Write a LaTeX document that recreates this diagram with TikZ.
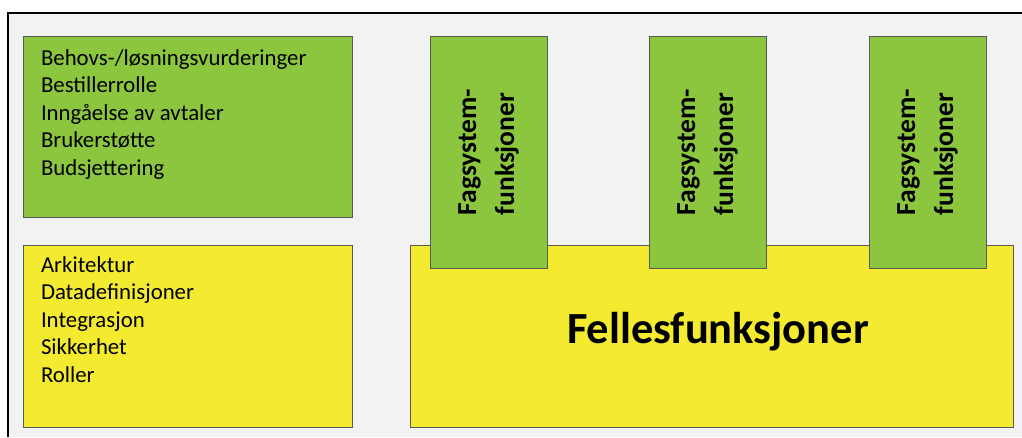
\documentclass[tikz,border=0pt]{standalone}
\usepackage{fontspec}
\setmainfont{Carlito}
\usepackage{xcolor}
\usepackage{tikz}
\usetikzlibrary{shadows}
\definecolor{boxgreen}{HTML}{8CC63F}
\definecolor{boxyellow}{HTML}{F4EB30}
\definecolor{bgray}{HTML}{F2F2F2}

\begin{document}
\begin{tikzpicture}[
  x=1pt, y=-1pt,
  every node/.style={inner sep=0pt, outer sep=0pt},
  fbox/.style={draw=black!65, line width=0.9pt, anchor=north west,
    drop shadow={shadow xshift=1.2pt, shadow yshift=-1.2pt, opacity=0.35, fill=black}},
  listtxt/.style={anchor=base west, font=\fontsize{22.8}{27.5}\selectfont},
  tabtxt/.style={rotate=90, align=left, font=\fontsize{27.5}{38}\selectfont\bfseries}
]
\useasboundingbox (0,0) rectangle (1022,437);
% background and frame
\fill[bgray] (8,13) rectangle (1022,437);
\draw[line width=1.4pt] (8,437) -- (8,13) -- (1022,13);
% left boxes
\node[fbox, fill=boxgreen, minimum width=329, minimum height=181] (roles) at (23,36) {};
\node[fbox, fill=boxyellow, minimum width=329, minimum height=182] (arch) at (23,245) {};
\foreach \i/\lbl in {0/{Behovs-/løsningsvurderinger}, 1/Bestillerrolle,
  2/Inngåelse av avtaler, 3/Brukerstøtte, 4/Budsjettering}
  \node[listtxt] (roles-\i) at (41,65+27.5*\i) {\lbl};
\foreach \i/\lbl in {0/Arkitektur, 1/Datadefinisjoner, 2/Integrasjon,
  3/Sikkerhet, 4/Roller}
  \node[listtxt] (arch-\i) at (41,272+27.5*\i) {\lbl};
% common base
\node[fbox, fill=boxyellow, minimum width=603, minimum height=182] (felles) at (410,245) {};
\node[anchor=base, font=\fontsize{44.5}{50}\selectfont\bfseries] (fellestxt) at (718,343) {Fellesfunksjoner};
% tabs
\foreach \n/\xx in {1/430, 2/649, 3/869}{
  \node[fbox, fill=boxgreen, minimum width=117, minimum height=232] (fag\n) at (\xx,36) {};
  \node[tabtxt] (fagtxt\n) at (fag\n.center) {Fagsystem-\\funksjoner};
}
\end{tikzpicture}
\end{document}
